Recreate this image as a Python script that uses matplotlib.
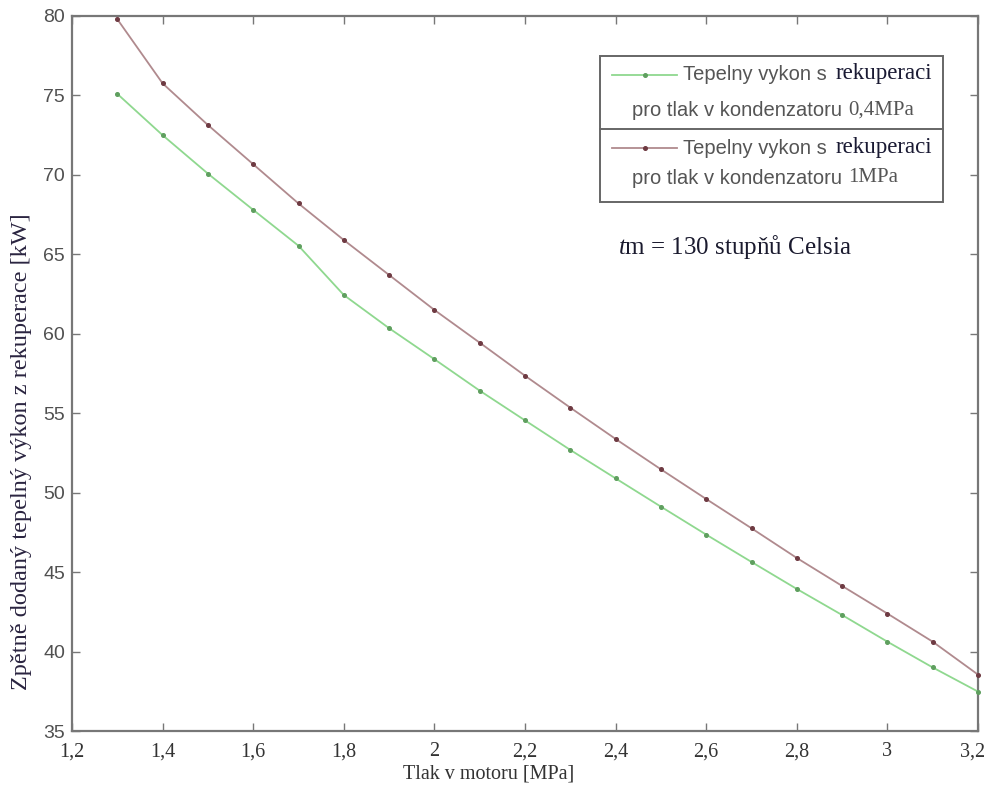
import matplotlib
matplotlib.use("Agg")
import matplotlib.pyplot as plt
from matplotlib.lines import Line2D
from matplotlib.patches import Rectangle
from matplotlib.ticker import FuncFormatter
from matplotlib.transforms import ScaledTranslation

# Pressure in the engine [MPa]
pressure = [1.3, 1.4, 1.5, 1.6, 1.7, 1.8, 1.9, 2.0, 2.1, 2.2,
            2.3, 2.4, 2.5, 2.6, 2.7, 2.8, 2.9, 3.0, 3.1, 3.2]

# Heat output returned from recuperation [kW], condenser at 0.4 MPa
heat_04mpa = [75.1, 72.5, 70.08, 67.8, 65.54, 62.44, 60.35, 58.4, 56.42, 54.55,
              52.69, 50.9, 49.12, 47.36, 45.64, 43.94, 42.3, 40.62, 39.0, 37.48]

# Heat output returned from recuperation [kW], condenser at 1 MPa
heat_1mpa = [79.8, 75.76, 73.14, 70.67, 68.2, 65.9, 63.7, 61.5, 59.44, 57.36,
             55.35, 53.38, 51.47, 49.6, 47.76, 45.89, 44.13, 42.39, 40.62, 38.55]

x_ticks = [1.2, 1.4, 1.6, 1.8, 2.0, 2.2, 2.4, 2.6, 2.8, 3.0, 3.2]
y_ticks = [35, 40, 45, 50, 55, 60, 65, 70, 75, 80]

plt.rcParams["mathtext.fontset"] = "custom"
plt.rcParams["mathtext.rm"] = "Liberation Serif"
plt.rcParams["mathtext.it"] = "Liberation Serif:italic"

W, H = 988, 793
fig = plt.figure(figsize=(W / 100, H / 100), dpi=100)
fig.patch.set_facecolor("white")


def fx(px):
    return px / W


def fy(py):
    return 1 - py / H


ax = fig.add_axes([fx(72), fy(731), fx(978) - fx(72), fy(16) - fy(731)])

green_line = "#8fd88f"
green_mark = "#5f9f5f"
red_line = "#b08a8e"
red_mark = "#6e3a42"

ax.plot(pressure, heat_04mpa, color=green_line, lw=1.3, marker="o", ms=2.6,
        mfc=green_mark, mec=green_mark, clip_on=False, zorder=3)
ax.plot(pressure, heat_1mpa, color=red_line, lw=1.3, marker="o", ms=2.6,
        mfc=red_mark, mec=red_mark, clip_on=False, zorder=3)

ax.set_xlim(1.2, 3.2)
ax.set_ylim(35, 80)
ax.set_xticks(x_ticks)
ax.set_yticks(y_ticks)
ax.xaxis.set_major_formatter(
    FuncFormatter(lambda v, p: ("%g" % round(v, 1)).replace(".", ",")))

spine_c = "#777777"
for s in ax.spines.values():
    s.set_color(spine_c)
    s.set_linewidth(1.6)

ax.tick_params(axis="both", direction="in", length=6, width=1.0, color=spine_c,
               top=True, right=True)
ax.tick_params(axis="y", pad=5, labelsize=14, labelcolor="#505050")
ax.tick_params(axis="x", pad=8, labelsize=14.5, labelcolor="#333333")
for lab in ax.get_xticklabels():
    lab.set_fontfamily("Liberation Serif")
for lab in ax.get_yticklabels():
    lab.set_fontfamily("Liberation Sans")
# keep the last pressure label inside the canvas
last = ax.get_xticklabels()[-1]
last.set_transform(last.get_transform() +
                   ScaledTranslation(-5 / 100, 0, fig.dpi_scale_trans))

fig.text(fx(489), fy(774), "Tlak v motoru [MPa]", family="Liberation Serif",
         fontsize=14.5, color="#333333", ha="center", va="center")
fig.text(fx(22), fy(452), "Zpětně dodaný tepelný výkon z rekuperace [kW]",
         family="Liberation Serif", fontsize=17.5, color="#2a2440",
         rotation=90, ha="center", va="center")

# Legend box with a divider between the two entries
fig.patches.append(Rectangle((fx(600), fy(202)), fx(943) - fx(600), fy(56) - fy(202),
                             transform=fig.transFigure, fill=False,
                             edgecolor="#666666", lw=1.4))
fig.lines.append(Line2D([fx(600), fx(943)], [fy(129), fy(129)],
                        transform=fig.transFigure, color="#666666", lw=1.4))

entries = [
    (75, 110, green_line, green_mark, "0,4MPa"),
    (148, 178, red_line, red_mark, "1MPa"),
]
for y1, y2, lc, mc, unit in entries:
    fig.lines.append(Line2D([fx(612), fx(677)], [fy(y1), fy(y1)],
                            transform=fig.transFigure, color=lc, lw=1.3))
    fig.lines.append(Line2D([fx(644.5)], [fy(y1)], transform=fig.transFigure,
                            marker="o", ms=2.6, mfc=mc, mec=mc, ls="none"))
    fig.text(fx(683), fy(y1), "Tepelny vykon s", family="Liberation Sans",
             fontsize=14.5, color="#555555", ha="left", va="center")
    fig.text(fx(836), fy(y1 - 1), "rekuperaci", family="Liberation Serif",
             fontsize=16.5, color="#1a1a33", ha="left", va="center")
    fig.text(fx(632), fy(y2), "pro tlak v kondenzatoru", family="Liberation Sans",
             fontsize=14.5, color="#555555", ha="left", va="center")
    fig.text(fx(848), fy(y2), unit, family="Liberation Serif", fontsize=15,
             color="#555555", ha="left", va="center")

fig.text(fx(618), fy(247), r"$\mathit{t}$m = 130 stupňů Celsia",
         family="Liberation Serif", fontsize=18, color="#1a1a2e",
         ha="left", va="center")

fig.savefig("out.png", dpi=100, facecolor="white")
